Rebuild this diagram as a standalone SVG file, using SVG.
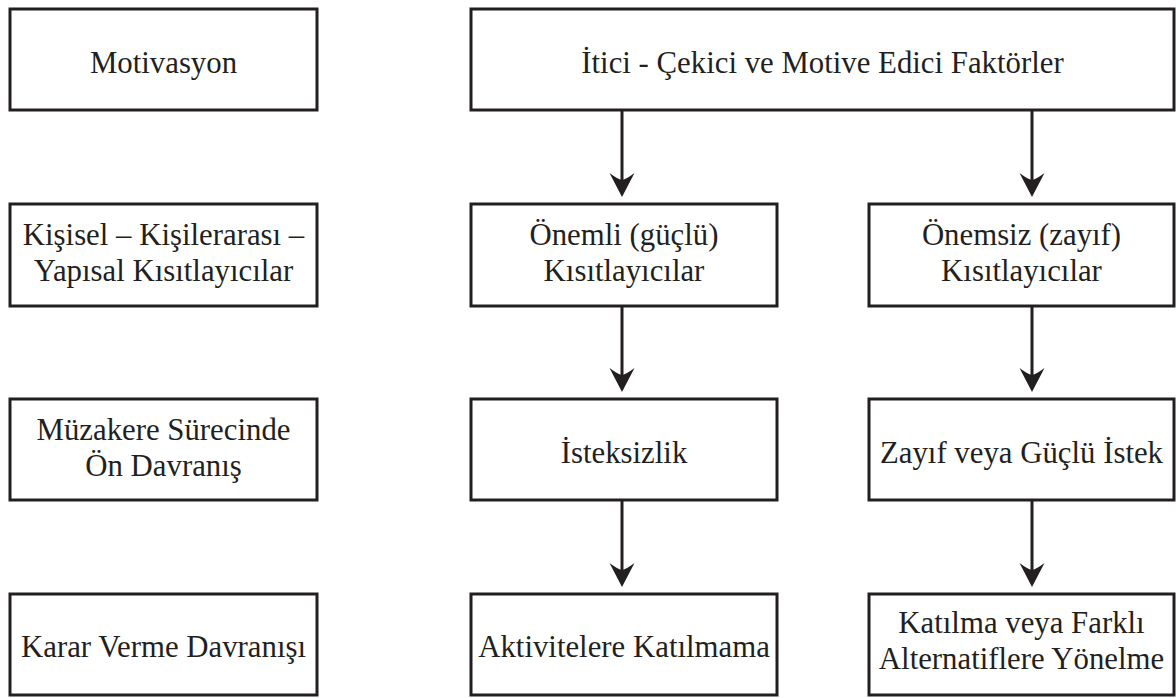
<svg xmlns="http://www.w3.org/2000/svg" width="1176" height="698" viewBox="0 0 1176 698">
  <style>
    .box { fill: #ffffff; stroke: #231f20; stroke-width: 3; }
    .lbl { font-family: "Liberation Serif", "Times New Roman", serif; font-size: 30.8px; fill: #231f20; text-anchor: middle; }
    .link { stroke: #231f20; stroke-width: 3; fill: none; marker-end: url(#head); }
  </style>
  <defs>
    <!-- swept arrowhead, tip sits 10px past the end of the shaft -->
    <marker id="head" markerUnits="userSpaceOnUse" markerWidth="26" markerHeight="26" viewBox="0 0 26 26" refX="14" refY="13" orient="auto">
      <path d="M24,13 L0,0.5 Q7,10 7,13 Q7,16 0,25.5 Z" fill="#231f20"/>
    </marker>
  </defs>
  <rect width="1176" height="698" fill="#ffffff"/>

  <!-- row labels (left column) -->
  <g id="motivasyon">
    <rect class="box" x="10" y="9" width="307" height="101"/>
    <text class="lbl" x="163.5" y="73">Motivasyon</text>
  </g>
  <g id="kisitlayicilar">
    <rect class="box" x="10" y="204" width="307" height="102"/>
    <text class="lbl" x="163.5" y="245">Kişisel – Kişilerarası –</text>
    <text class="lbl" x="163.5" y="281">Yapısal Kısıtlayıcılar</text>
  </g>
  <g id="muzakere">
    <rect class="box" x="10" y="399" width="307" height="101"/>
    <text class="lbl" x="163.5" y="440">Müzakere Sürecinde</text>
    <text class="lbl" x="163.5" y="476">Ön Davranış</text>
  </g>
  <g id="karar">
    <rect class="box" x="10" y="594" width="307" height="101"/>
    <text class="lbl" x="163.5" y="657">Karar Verme Davranışı</text>
  </g>

  <!-- flow -->
  <g id="faktorler">
    <rect class="box" x="471" y="9" width="703" height="101"/>
    <text class="lbl" x="822.5" y="73">İtici - Çekici ve Motive Edici Faktörler</text>
  </g>
  <g id="onemli">
    <rect class="box" x="471" y="204" width="306" height="102"/>
    <text class="lbl" x="624" y="245">Önemli (güçlü)</text>
    <text class="lbl" x="624" y="281">Kısıtlayıcılar</text>
  </g>
  <g id="onemsiz">
    <rect class="box" x="869" y="204" width="305" height="102"/>
    <text class="lbl" x="1021.5" y="245">Önemsiz (zayıf)</text>
    <text class="lbl" x="1021.5" y="281">Kısıtlayıcılar</text>
  </g>
  <g id="isteksizlik">
    <rect class="box" x="471" y="399" width="306" height="101"/>
    <text class="lbl" x="624" y="463">İsteksizlik</text>
  </g>
  <g id="istek">
    <rect class="box" x="869" y="399" width="305" height="101"/>
    <text class="lbl" x="1021.5" y="463">Zayıf veya Güçlü İstek</text>
  </g>
  <g id="katilmama">
    <rect class="box" x="471" y="594" width="306" height="101"/>
    <text class="lbl" x="624" y="657">Aktivitelere Katılmama</text>
  </g>
  <g id="katilma">
    <rect class="box" x="869" y="594" width="305" height="101"/>
    <text class="lbl" x="1021.5" y="633">Katılma veya Farklı</text>
    <text class="lbl" x="1021.5" y="669">Alternatiflere Yönelme</text>
  </g>

  <g id="connectors">
    <line class="link" x1="622" y1="110" x2="622" y2="187"/>
    <line class="link" x1="1032" y1="110" x2="1032" y2="187"/>
    <line class="link" x1="622" y1="306" x2="622" y2="382"/>
    <line class="link" x1="1032" y1="306" x2="1032" y2="382"/>
    <line class="link" x1="622" y1="500" x2="622" y2="577"/>
    <line class="link" x1="1032" y1="500" x2="1032" y2="577"/>
  </g>
</svg>
